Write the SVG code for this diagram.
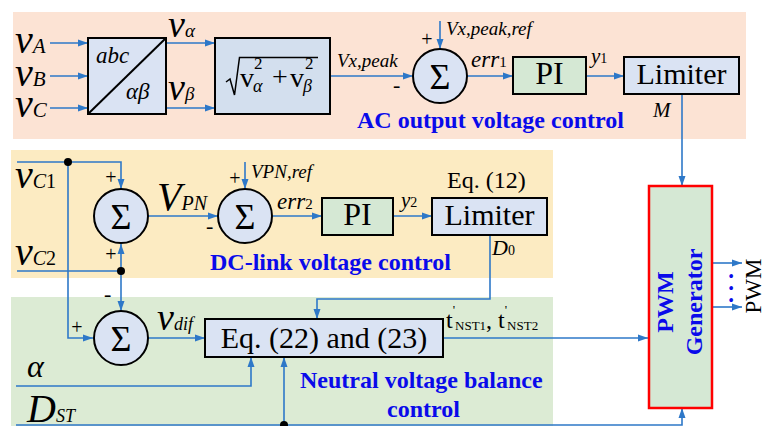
<svg xmlns="http://www.w3.org/2000/svg" width="763" height="426" viewBox="0 0 763 426" font-family="Liberation Serif, serif">
<defs>
<marker id="arr" markerUnits="userSpaceOnUse" markerWidth="10" markerHeight="8" refX="10" refY="4" orient="auto">
<path d="M0,0.5 L10,4 L0,7.5 z" fill="#2E78C8"/>
</marker>
<style>
text{font-family:"Liberation Serif",serif}
.i{font-style:italic}
.blk{fill:#DAE3F3;stroke:#000;stroke-width:2}
.pi{fill:#D5E8D4;stroke:#000;stroke-width:2}
.sum{fill:#DAE3F3;stroke:#000;stroke-width:2}
.w{fill:none;stroke:#2E78C8;stroke-width:1.6}
.a{marker-end:url(#arr)}
.ttl{font-weight:bold;fill:#0A0AEA;font-size:24px}
.sg{font-size:36px;text-anchor:middle}
.pm{font-size:20px;text-anchor:middle}
.dot{fill:#000}
</style>
</defs>

<!-- panels -->
<rect x="13" y="12" width="733" height="127" fill="#FCE3D4"/>
<rect x="11" y="150" width="542" height="128" fill="#FCEBC2"/>
<rect x="11" y="297" width="542" height="129" fill="#DCEBD4"/>

<!-- connectors -->
<g id="connectors">
<path class="w a" d="M50,43 H88"/>
<path class="w a" d="M50,76 H88"/>
<path class="w a" d="M50,108 H88"/>
<path class="w a" d="M166,43 H215"/>
<path class="w a" d="M166,108 H215"/>
<path class="w a" d="M330,76 H413"/>
<path class="w a" d="M440,21 V49"/>
<path class="w a" d="M467,76 H513"/>
<path class="w a" d="M586,76 H624"/>
<path class="w a" d="M682,94 V186"/>
<path class="w a" d="M17,162 H121 V189"/>
<path class="w a" d="M68,162 V338 H93"/>
<path class="w a" d="M17,271 H121 V244"/>
<path class="w a" d="M121,271 V311"/>
<path class="w a" d="M148,216 H218"/>
<path class="w a" d="M245,162 V189"/>
<path class="w a" d="M273,216 H322"/>
<path class="w a" d="M393,216 H432"/>
<path class="w a" d="M490,235 V299 H317 V319"/>
<path class="w a" d="M148,338 H205"/>
<path class="w a" d="M443,338 H648"/>
<path class="w a" d="M16,386 H251 V357"/>
<path class="w a" d="M16,425 H682 V408"/>
<path class="w a" d="M284,425 V357"/>
<path class="w a" d="M712,263 H742"/>
<path class="w a" d="M712,307 H742"/>
<circle class="dot" cx="68" cy="162" r="4"/>
<circle class="dot" cx="121" cy="271" r="4"/>
<circle class="dot" cx="284" cy="425" r="4"/>
</g>

<!-- AC output voltage control -->
<g id="inputs-abc">
<text x="15" y="53"><tspan class="i" font-size="40">v</tspan><tspan class="i" font-size="21">A</tspan></text>
<text x="15" y="86"><tspan class="i" font-size="40">v</tspan><tspan class="i" font-size="21">B</tspan></text>
<text x="15" y="117"><tspan class="i" font-size="40">v</tspan><tspan class="i" font-size="21">C</tspan></text>
</g>
<g id="abc2ab">
<rect class="blk" x="88" y="38" width="78" height="76"/>
<line x1="88" y1="114" x2="166" y2="38" stroke="#000" stroke-width="2"/>
<text x="96" y="63" class="i" font-size="23">abc</text>
<text x="126" y="99" class="i" font-size="23">αβ</text>
</g>
<text x="168" y="37"><tspan class="i" font-size="38">v</tspan><tspan class="i" font-size="19">α</tspan></text>
<text x="168" y="100"><tspan class="i" font-size="38">v</tspan><tspan class="i" font-size="19">β</tspan></text>
<g id="sqrt">
<rect x="215" y="38" width="115" height="76" fill="#D3DFEE" stroke="#000" stroke-width="2"/>
<path d="M226,82 L230,79 L234.5,95 L239.5,57.5 H318" fill="none" stroke="#000" stroke-width="1.5" stroke-linejoin="miter"/>
<text x="240" y="87" font-size="28">v</text>
<text x="254" y="69" font-size="17">2</text>
<text x="253" y="92" class="i" font-size="18">α</text>
<text x="272" y="86" font-size="28">+</text>
<text x="290" y="87" font-size="28">v</text>
<text x="305" y="69" font-size="17">2</text>
<text x="303" y="92" class="i" font-size="18">β</text>
</g>
<text x="337" y="67" class="i" font-size="19">Vx,peak</text>
<text x="393" y="92" font-size="22">-</text>
<g id="sum1">
<circle class="sum" cx="440" cy="76" r="27"/>
<text x="440" y="89" class="sg">Σ</text>
</g>
<text x="427" y="46" class="pm">+</text>
<text x="446" y="35" class="i" font-size="19">Vx,peak,ref</text>
<text x="471" y="67"><tspan class="i" font-size="23">err</tspan><tspan font-size="15">1</tspan></text>
<g id="pi1">
<rect class="pi" x="513" y="57" width="73" height="37"/>
<text x="549.5" y="84" font-size="32" text-anchor="middle">PI</text>
</g>
<text x="591" y="63"><tspan class="i" font-size="21">y</tspan><tspan font-size="14">1</tspan></text>
<g id="limiter1">
<rect class="blk" x="624" y="57" width="115" height="37"/>
<text x="681.5" y="84" font-size="30" text-anchor="middle">Limiter</text>
</g>
<text x="653" y="117" class="i" font-size="21">M</text>
<text x="357" y="128" class="ttl">AC output voltage control</text>

<!-- DC-link voltage control -->
<text x="15" y="188"><tspan class="i" font-size="40">v</tspan><tspan class="i" font-size="20">C</tspan><tspan font-size="20">1</tspan></text>
<text x="15" y="265"><tspan class="i" font-size="40">v</tspan><tspan class="i" font-size="20">C</tspan><tspan font-size="20">2</tspan></text>
<g id="sumA">
<circle class="sum" cx="121" cy="216" r="27"/>
<text x="121" y="229" class="sg">Σ</text>
</g>
<text x="111" y="184" class="pm">+</text>
<text x="111" y="261" class="pm">+</text>
<text x="157" y="210"><tspan class="i" font-size="40">V</tspan><tspan class="i" font-size="20">PN</tspan></text>
<text x="206" y="233" font-size="22">-</text>
<g id="sumB">
<circle class="sum" cx="245" cy="216" r="27"/>
<text x="245" y="229" class="sg">Σ</text>
</g>
<text x="235" y="185" class="pm">+</text>
<text x="251" y="178" class="i" font-size="19">VPN,ref</text>
<text x="277" y="209"><tspan class="i" font-size="23">err</tspan><tspan font-size="15">2</tspan></text>
<g id="pi2">
<rect class="pi" x="322" y="198" width="71" height="37"/>
<text x="357.5" y="225" font-size="32" text-anchor="middle">PI</text>
</g>
<text x="401" y="207"><tspan class="i" font-size="21">y</tspan><tspan font-size="14">2</tspan></text>
<g id="limiter2">
<rect class="blk" x="432" y="198" width="115" height="37"/>
<text x="489.5" y="225" font-size="30" text-anchor="middle">Limiter</text>
</g>
<text x="447" y="188" font-size="24">Eq. (12)</text>
<text x="492" y="255"><tspan class="i" font-size="22">D</tspan><tspan font-size="14">0</tspan></text>
<text x="210" y="270" class="ttl">DC-link voltage control</text>

<!-- Neutral voltage balance control -->
<text x="104" y="301" font-size="22">-</text>
<text x="77" y="334" class="pm">+</text>
<g id="sumC">
<circle class="sum" cx="121" cy="338" r="27"/>
<text x="121" y="351" class="sg">Σ</text>
</g>
<text x="157" y="330"><tspan class="i" font-size="38">v</tspan><tspan class="i" font-size="18">dif</tspan></text>
<g id="eq2223">
<rect class="blk" x="205" y="319" width="238" height="38"/>
<text x="324" y="348" font-size="30" text-anchor="middle">Eq. (22) and (23)</text>
</g>
<text x="446" y="328"><tspan font-size="24">t</tspan><tspan font-size="13" dy="-14">'</tspan><tspan font-size="13" dy="16">NST1</tspan><tspan font-size="24" dy="-2">, t</tspan><tspan font-size="13" dy="-14">'</tspan><tspan font-size="13" dy="16">NST2</tspan></text>
<text x="27" y="377" class="i" font-size="32">α</text>
<text x="27" y="422"><tspan class="i" font-size="40">D</tspan><tspan class="i" font-size="18">ST</tspan></text>
<text x="300" y="388" class="ttl">Neutral voltage balance</text>
<text x="387" y="417" class="ttl">control</text>

<!-- PWM generator -->
<g id="pwm">
<rect x="649" y="186" width="63" height="222" fill="#D5E8D4" stroke="#FF0000" stroke-width="2.5"/>
<text transform="translate(673 302) rotate(-90)" text-anchor="middle" font-size="24" font-weight="bold" style="fill:#0A0AEA">PWM</text>
<text transform="translate(702 302) rotate(-90)" text-anchor="middle" font-size="24" font-weight="bold" style="fill:#0A0AEA">Generator</text>
</g>
<text transform="translate(733 285) rotate(-90)" text-anchor="middle" font-size="24" font-weight="bold" letter-spacing="6" style="fill:#0A0AEA">...</text>
<text transform="translate(761 286) rotate(-90)" text-anchor="middle" font-size="23">PWM</text>
</svg>
